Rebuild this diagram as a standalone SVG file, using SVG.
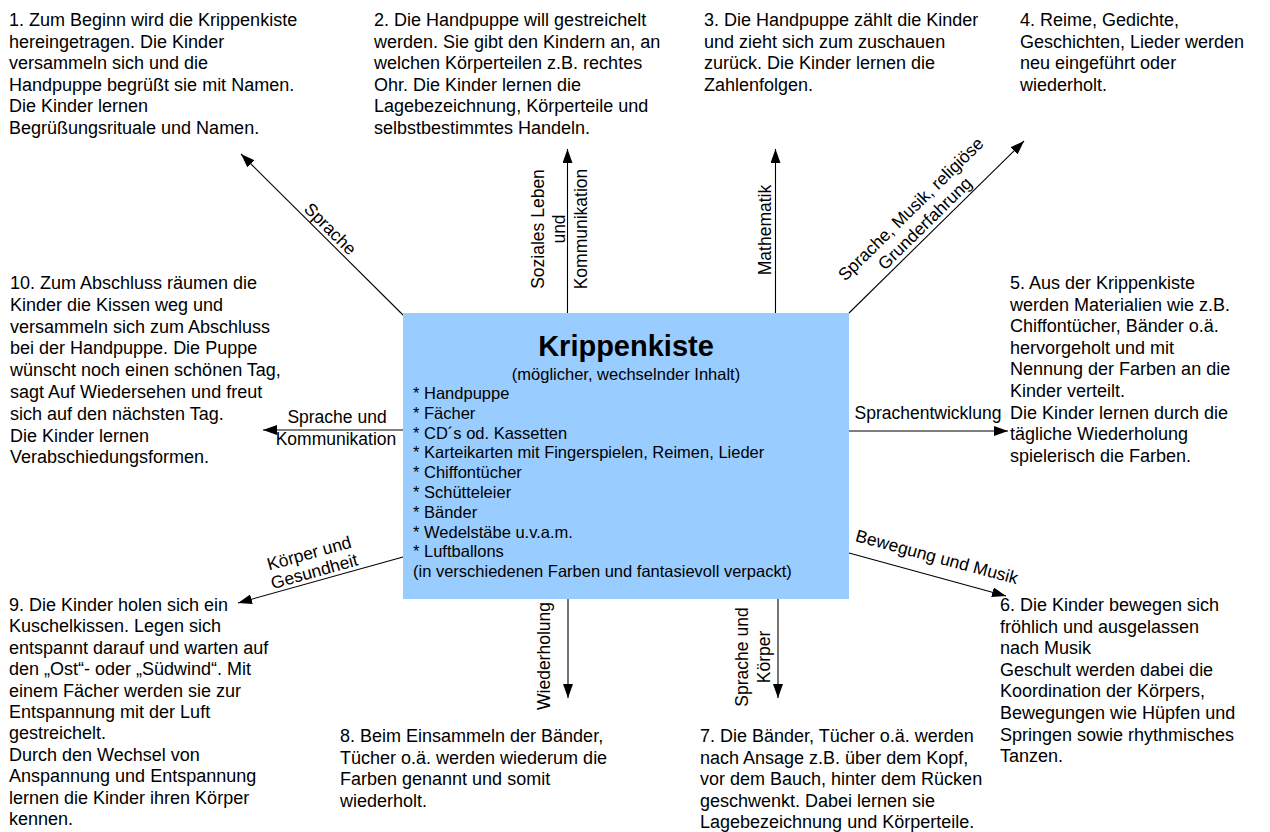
<svg xmlns="http://www.w3.org/2000/svg" width="1270" height="832" viewBox="0 0 1270 832">
<style>
.t{font-family:"Liberation Sans",Arial,sans-serif;font-size:18px;fill:#000}
.b{font-family:"Liberation Sans",Arial,sans-serif;font-size:16.5px;fill:#000}
.l{font-family:"Liberation Sans",Arial,sans-serif;font-size:17.5px;fill:#000;text-anchor:middle}
.c line{stroke:#000;stroke-width:1.1;marker-end:url(#ah)}
</style>
<defs>
<marker id="ah" markerUnits="userSpaceOnUse" markerWidth="15" markerHeight="11" refX="14" refY="5" orient="auto">
<path d="M0,0 L14,5 L0,10 z" fill="#000"/>
</marker>
</defs>
<rect width="1270" height="832" fill="#fff"/>
<g class="c" id="connectors">
<line x1="403" y1="315" x2="241" y2="154"/>
<line x1="567.5" y1="313" x2="567.5" y2="149"/>
<line x1="775.5" y1="313" x2="775.5" y2="149"/>
<line x1="849" y1="313" x2="1024" y2="141"/>
<line x1="849" y1="431" x2="1008" y2="431"/>
<line x1="849" y1="553" x2="1006" y2="596"/>
<line x1="778" y1="599" x2="778" y2="698"/>
<line x1="568" y1="599" x2="568" y2="698"/>
<line x1="403" y1="557" x2="238" y2="603"/>
<line x1="403" y1="430" x2="263" y2="430"/>
</g>
<g id="labels">
<text class="l" transform="translate(326,233) rotate(45)">Sprache</text>
<text class="l" transform="translate(543.5,229) rotate(-90)">Soziales Leben</text>
<text class="l" transform="translate(565,229) rotate(-90)">und</text>
<text class="l" transform="translate(586.5,229) rotate(-90)">Kommunikation</text>
<text class="l" transform="translate(771,230) rotate(-90)">Mathematik</text>
<text class="l" transform="translate(915,213.3) rotate(-44.5)">Sprache, Musik, religiöse</text>
<text class="l" transform="translate(929,227.6) rotate(-44.5)">Grunderfahrung</text>
<text class="l" x="928" y="419">Sprachentwicklung</text>
<text class="l" transform="translate(935.4,562.7) rotate(15)">Bewegung und Musik</text>
<text class="l" transform="translate(748,657) rotate(-90)">Sprache und</text>
<text class="l" transform="translate(770,657) rotate(-90)">Körper</text>
<text class="l" transform="translate(550,656) rotate(-90)">Wiederholung</text>
<text class="l" transform="translate(310.8,558.9) rotate(-15.6)">Körper und</text>
<text class="l" transform="translate(315.9,577.1) rotate(-15.6)">Gesundheit</text>
<text class="l" x="337" y="423">Sprache und</text>
<text class="l" x="336" y="445">Kommunikation</text>
</g>
<g id="center">
<rect x="403" y="313" width="446" height="286" fill="#99ccff"/>
<text x="626" y="356" text-anchor="middle" style="font-family:'Liberation Sans',Arial,sans-serif;font-size:29px;font-weight:bold">Krippenkiste</text>
<text class="b" x="626" y="380" text-anchor="middle">(möglicher, wechselnder Inhalt)</text>
<text class="b" x="413" y="399">* Handpuppe<tspan x="413" dy="19.8">* Fächer</tspan><tspan x="413" dy="19.8">* CD´s od. Kassetten</tspan><tspan x="413" dy="19.8">* Karteikarten mit Fingerspielen, Reimen, Lieder</tspan><tspan x="413" dy="19.8">* Chiffontücher</tspan><tspan x="413" dy="19.8">* Schütteleier</tspan><tspan x="413" dy="19.8">* Bänder</tspan><tspan x="413" dy="19.8">* Wedelstäbe u.v.a.m.</tspan><tspan x="413" dy="19.8">* Luftballons</tspan><tspan x="413" dy="19.8">(in verschiedenen Farben und fantasievoll verpackt)</tspan></text>
</g>
<g id="n1"><text class="t" x="9" y="26">1. Zum Beginn wird die Krippenkiste<tspan x="9" dy="21.6">hereingetragen. Die Kinder</tspan><tspan x="9" dy="21.6">versammeln sich und die</tspan><tspan x="9" dy="21.6">Handpuppe begrüßt sie mit Namen.</tspan><tspan x="9" dy="21.6">Die Kinder lernen</tspan><tspan x="9" dy="21.6">Begrüßungsrituale und Namen.</tspan></text></g>
<g id="n2"><text class="t" x="374" y="26">2. Die Handpuppe will gestreichelt<tspan x="374" dy="21.6">werden. Sie gibt den Kindern an, an</tspan><tspan x="374" dy="21.6">welchen Körperteilen z.B. rechtes</tspan><tspan x="374" dy="21.6">Ohr. Die Kinder lernen die</tspan><tspan x="374" dy="21.6">Lagebezeichnung, Körperteile und</tspan><tspan x="374" dy="21.6">selbstbestimmtes Handeln.</tspan></text></g>
<g id="n3"><text class="t" x="704" y="26">3. Die Handpuppe zählt die Kinder<tspan x="704" dy="21.6">und zieht sich zum zuschauen</tspan><tspan x="704" dy="21.6">zurück. Die Kinder lernen die</tspan><tspan x="704" dy="21.6">Zahlenfolgen.</tspan></text></g>
<g id="n4"><text class="t" x="1020" y="26">4. Reime, Gedichte,<tspan x="1020" dy="21.6">Geschichten, Lieder werden</tspan><tspan x="1020" dy="21.6">neu eingeführt oder</tspan><tspan x="1020" dy="21.6">wiederholt.</tspan></text></g>
<g id="n5"><text class="t" x="1010" y="289">5. Aus der Krippenkiste<tspan x="1010" dy="21.6">werden Materialien wie z.B.</tspan><tspan x="1010" dy="21.6">Chiffontücher, Bänder o.ä.</tspan><tspan x="1010" dy="21.6">hervorgeholt und mit</tspan><tspan x="1010" dy="21.6">Nennung der Farben an die</tspan><tspan x="1010" dy="21.6">Kinder verteilt.</tspan><tspan x="1010" dy="21.6">Die Kinder lernen durch die</tspan><tspan x="1010" dy="21.6">tägliche Wiederholung</tspan><tspan x="1010" dy="21.6">spielerisch die Farben.</tspan></text></g>
<g id="n6"><text class="t" x="1000" y="611">6. Die Kinder bewegen sich<tspan x="1000" dy="21.6">fröhlich und ausgelassen</tspan><tspan x="1000" dy="21.6">nach Musik</tspan><tspan x="1000" dy="21.6">Geschult werden dabei die</tspan><tspan x="1000" dy="21.6">Koordination der Körpers,</tspan><tspan x="1000" dy="21.6">Bewegungen wie Hüpfen und</tspan><tspan x="1000" dy="21.6">Springen sowie rhythmisches</tspan><tspan x="1000" dy="21.6">Tanzen.</tspan></text></g>
<g id="n7"><text class="t" x="700" y="742">7. Die Bänder, Tücher o.ä. werden<tspan x="700" dy="21.6">nach Ansage z.B. über dem Kopf,</tspan><tspan x="700" dy="21.6">vor dem Bauch, hinter dem Rücken</tspan><tspan x="700" dy="21.6">geschwenkt. Dabei lernen sie</tspan><tspan x="700" dy="21.6">Lagebezeichnung und Körperteile.</tspan></text></g>
<g id="n8"><text class="t" x="340" y="742">8. Beim Einsammeln der Bänder,<tspan x="340" dy="21.6">Tücher o.ä. werden wiederum die</tspan><tspan x="340" dy="21.6">Farben genannt und somit</tspan><tspan x="340" dy="21.6">wiederholt.</tspan></text></g>
<g id="n9"><text class="t" x="9" y="611">9. Die Kinder holen sich ein<tspan x="9" dy="21.4">Kuschelkissen. Legen sich</tspan><tspan x="9" dy="21.4">entspannt darauf und warten auf</tspan><tspan x="9" dy="21.4">den „Ost“- oder „Südwind“. Mit</tspan><tspan x="9" dy="21.4">einem Fächer werden sie zur</tspan><tspan x="9" dy="21.4">Entspannung mit der Luft</tspan><tspan x="9" dy="21.4">gestreichelt.</tspan><tspan x="9" dy="21.4">Durch den Wechsel von</tspan><tspan x="9" dy="21.4">Anspannung und Entspannung</tspan><tspan x="9" dy="21.4">lernen die Kinder ihren Körper</tspan><tspan x="9" dy="21.4">kennen.</tspan></text></g>
<g id="n10"><text class="t" x="10" y="289">10. Zum Abschluss räumen die<tspan x="10" dy="21.8">Kinder die Kissen weg und</tspan><tspan x="10" dy="21.8">versammeln sich zum Abschluss</tspan><tspan x="10" dy="21.8">bei der Handpuppe. Die Puppe</tspan><tspan x="10" dy="21.8">wünscht noch einen schönen Tag,</tspan><tspan x="10" dy="21.8">sagt Auf Wiedersehen und freut</tspan><tspan x="10" dy="21.8">sich auf den nächsten Tag.</tspan><tspan x="10" dy="21.8">Die Kinder lernen</tspan><tspan x="10" dy="21.8">Verabschiedungsformen.</tspan></text></g>
</svg>
